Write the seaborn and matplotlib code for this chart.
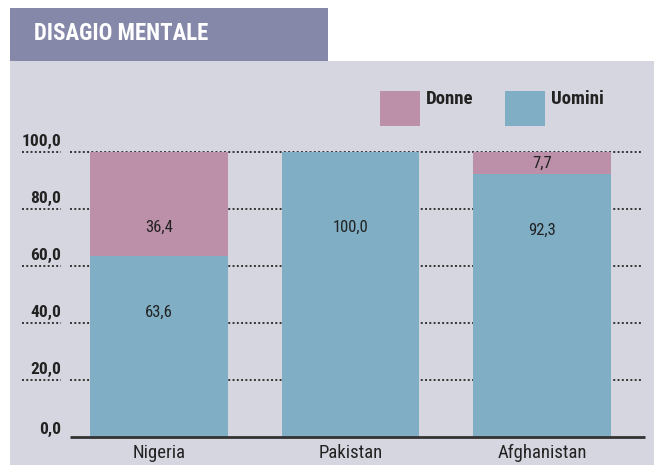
import seaborn as sns
import pandas as pd
import matplotlib.pyplot as plt
from matplotlib.patches import Rectangle

paesi = ['Nigeria', 'Pakistan', 'Afghanistan']
uomini = [63.6, 100.0, 92.3]
donne = [36.4, 0.0, 7.7]
y_ticks = [0, 20, 40, 60, 80, 100]

col_donne = '#bc90a8'
col_uomini = '#7faec5'
sfondo = '#d6d6e0'
titolo_bg = '#8588a8'
testo = '#222222'

sns.set_theme(style='white')
plt.rcParams['font.family'] = ['Roboto Condensed', 'DejaVu Sans']

df = pd.DataFrame({'Paese': paesi, 'Uomini': uomini, 'Donne': donne})
df['Totale'] = df['Uomini'] + df['Donne']

W, H = 654, 465
fig = plt.figure(figsize=(W / 100, H / 100), dpi=100)
fig.patch.set_facecolor('white')

# pannello grigio e box del titolo
fig.add_artist(Rectangle((10 / W, 0), 644 / W, (H - 61) / H, transform=fig.transFigure,
                         facecolor=sfondo, edgecolor='none', zorder=0))
fig.add_artist(Rectangle((10 / W, (H - 61) / H), 318 / W, 53 / H, transform=fig.transFigure,
                         facecolor=titolo_bg, edgecolor='none', zorder=0))
fig.text(34 / W, (H - 40) / H, 'DISAGIO MENTALE', color='white', fontsize=16.5,
         fontweight='bold', va='baseline', ha='left')

ax = fig.add_axes([22 / W, 28 / H, 623 / W, 285 / H])
ax.set_facecolor('none')


def px(p):
    # pixel orizzontale -> coordinata categoriale
    return (p - 159) / 191.5


dots = (0, (1, 1.2))
for v in y_ticks:
    ax.text(px(61), v + (0.9 if v else 0.0), f'{v:.1f}'.replace('.', ','),
            fontsize=12.5, fontweight='bold', color=testo, ha='right', va='bottom')
    if v == 0:
        continue
    ax.plot([px(22), px(61)], [v, v], color='#333333', linewidth=1.4,
            linestyle=dots, zorder=1, clip_on=False)
    ax.plot([px(70), px(643)], [v, v], color='#333333', linewidth=1.4,
            linestyle=dots, zorder=1, clip_on=False)

sns.barplot(data=df, x='Paese', y='Totale', color=col_donne, saturation=1,
            width=0.72, ax=ax, zorder=2, linewidth=0, edgecolor='none')
sns.barplot(data=df, x='Paese', y='Uomini', color=col_uomini, saturation=1,
            width=0.72, ax=ax, zorder=3, linewidth=0, edgecolor='none')

# etichette dei valori
for i, (u, d) in enumerate(zip(uomini, donne)):
    yu = min(73.7, u - 19.8)
    ax.text(i, yu, f'{u:.1f}'.replace('.', ','), ha='center', va='center',
            fontsize=12, color=testo, zorder=4)
    if d > 0:
        yd = min(u + 10.1, u + d / 2)
        ax.text(i, yd, f'{d:.1f}'.replace('.', ','), ha='center', va='center',
                fontsize=12, color=testo, zorder=4)

ax.plot([px(70), px(645)], [0, 0], color='#333333', linewidth=2, zorder=5,
        solid_capstyle='butt', clip_on=False)

ax.set_xlim(px(22), px(645))
ax.set_ylim(0, 100)
ax.set_yticks([])
ax.set_xlabel('')
ax.set_ylabel('')
ax.tick_params(axis='x', length=0, pad=5, labelsize=13.5, labelcolor=testo)
for s in ax.spines.values():
    s.set_visible(False)

# legenda
for x0, nome, c in [(380, 'Donne', col_donne), (505, 'Uomini', col_uomini)]:
    fig.add_artist(Rectangle((x0 / W, (H - 126) / H), 40 / W, 35 / H, transform=fig.transFigure,
                             facecolor=c, edgecolor='none'))
    fig.text((x0 + 46) / W, (H - 103.5) / H, nome, fontsize=13.5, fontweight='bold',
             color=testo, ha='left', va='baseline')

plt.savefig('out.png', dpi=100)
